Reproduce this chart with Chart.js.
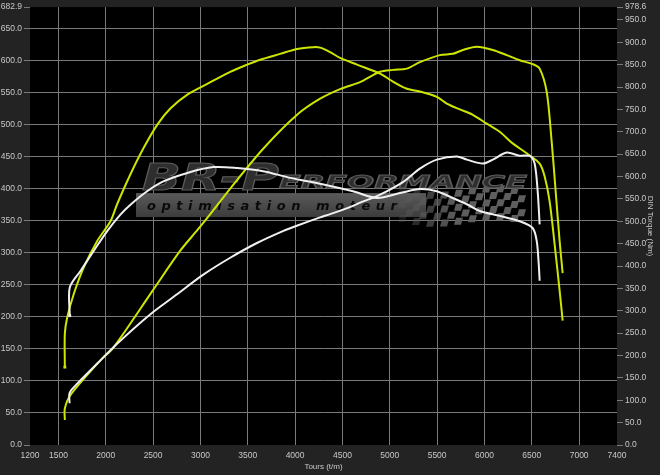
<!DOCTYPE html>
<html>
<head>
<meta charset="utf-8">
<script src="https://cdn.jsdelivr.net/npm/chart.js@4.4.1/dist/chart.umd.min.js"></script>
<style>
  html, body { margin: 0; padding: 0; background: #232323; }
  canvas { display: block; }
</style>
</head>
<body>
<canvas id="dyno" width="660" height="475"></canvas>
<script>
// axis ticks
const rpmTicks = [1200, 1500, 2000, 2500, 3000, 3500, 4000, 4500, 5000, 5500, 6000, 6500, 7000, 7400];
const powerTicks = [0, 50, 100, 150, 200, 250, 300, 350, 400, 450, 500, 550, 600, 650, 682.9];
const torqueTicks = [0, 50, 100, 150, 200, 250, 300, 350, 400, 450, 500, 550, 600, 650, 700, 750, 800, 850, 900, 950, 978.6];

// tuned (yellow)
const tunedPowerRpm = [1568, 1568, 1628, 1944, 2081, 2492, 2787, 2967, 3104, 3315, 3663, 4021, 4264, 4475, 4686, 4897, 5034, 5181, 5318, 5529, 5666, 5772, 5919, 6088, 6235, 6372, 6509, 6583, 6657, 6710, 6752, 6794, 6826];
const tunedPower = [39, 57, 78, 132, 152, 240, 303, 335, 360, 400, 462, 515, 540, 555, 566, 582, 585, 587, 597, 608, 610, 616, 621, 616, 608, 600, 594, 587, 551, 473, 396, 318, 268];
const tunedTorqueRpm = [1568, 1568, 1593, 1663, 1768, 1910, 2050, 2120, 2261, 2398, 2545, 2682, 2862, 3072, 3315, 3494, 3631, 3842, 4021, 4190, 4264, 4370, 4475, 4654, 4897, 5034, 5181, 5318, 5497, 5602, 5740, 5877, 6024, 6161, 6298, 6446, 6583, 6636, 6688, 6741, 6794, 6826];
const tunedTorque = [174, 249, 285, 338, 397, 456, 500, 538, 605, 663, 716, 752, 783, 807, 834, 850, 861, 874, 885, 889, 888, 878, 865, 850, 830, 812, 796, 790, 778, 763, 750, 738, 718, 700, 674, 652, 629, 600, 545, 449, 345, 278];

// stock (white)
const stockPowerRpm = [1618, 1618, 1681, 1910, 2120, 2472, 2753, 3034, 3315, 3597, 3877, 4018, 4264, 4370, 4612, 4719, 4865, 5139, 5318, 5497, 5708, 5814, 5983, 6088, 6235, 6372, 6478, 6530, 6562, 6583];
const stockPower = [65, 81, 93, 127, 158, 204, 235, 266, 292, 315, 334, 342, 355, 360, 373, 380, 388, 410, 431, 445, 450, 445, 439, 445, 456, 451, 451, 439, 396, 344];
const stockTorqueRpm = [1620, 1620, 1733, 1874, 2015, 2155, 2261, 2437, 2609, 2862, 3136, 3389, 3663, 3947, 4264, 4612, 4865, 5108, 5318, 5497, 5666, 5814, 5951, 6161, 6372, 6509, 6552, 6573, 6583];
const stockTorque = [289, 352, 389, 434, 478, 515, 537, 567, 589, 608, 621, 619, 612, 597, 584, 567, 552, 563, 572, 567, 552, 538, 523, 512, 500, 485, 456, 405, 367];

const YELLOW = '#cde600';
const WHITE = '#f0f0f0';
const GRID = '#7a7a7a';
const TEXT = '#c8c8c8';

const pts = (xs, ys) => xs.map((x, i) => ({ x: x, y: ys[i] }));
const firstOnly = ctx => ctx.dataIndex === 0 ? 2 : 0;
const hideEdges = (lo, hi) => c => (c.tick && (c.tick.value === lo || c.tick.value === hi)) ? 'rgba(0,0,0,0)' : GRID;

const plotBg = {
  id: 'plotBg',
  beforeDraw(chart) {
    const { ctx, chartArea: a } = chart;
    ctx.save();
    ctx.fillStyle = '#000';
    ctx.fillRect(a.left, a.top, a.right - a.left, a.bottom - a.top);
    ctx.restore();
  }
};

// BR-Performance watermark behind the curves
const logo = {
  id: 'logo',
  beforeDatasetsDraw(chart) {
    const { ctx, chartArea: a } = chart;
    const L = a.left, T = a.top;
    ctx.save();

    // grey band
    const g = ctx.createLinearGradient(0, T + 186, 0, T + 210);
    g.addColorStop(0, '#5a5a5a');
    g.addColorStop(1, '#3c3c3c');
    ctx.fillStyle = g;
    ctx.fillRect(L + 106, T + 186, 290, 24);

    // checkered flag
    const sq = 7;
    for (let c = 0; c < 18; c++) {
      for (let r = 0; r < 5; r++) {
        if ((c + r) % 2) continue;
        const x = L + 368 + c * sq;
        const y = T + 180 + r * sq + Math.sin(c * 0.35) * 4 + c * 0.15;
        ctx.globalAlpha = Math.min(1, 0.25 + c / 10);
        ctx.fillStyle = '#5e5e5e';
        ctx.beginPath();
        ctx.moveTo(x + 2, y);
        ctx.lineTo(x + sq + 2, y);
        ctx.lineTo(x + sq, y + sq);
        ctx.lineTo(x, y + sq);
        ctx.closePath();
        ctx.fill();
      }
    }
    ctx.globalAlpha = 1;

    // "optimisation moteur"
    const tag = 'optimisation moteur';
    ctx.font = 'italic bold 13px "DejaVu Sans"';
    ctx.fillStyle = '#0a0a0a';
    ctx.textBaseline = 'alphabetic';
    const raw = ctx.measureText(tag).width;
    const gap = (250 - raw) / (tag.length - 1);
    let tx = L + 117;
    for (const ch of tag) {
      ctx.fillText(ch, tx, T + 203);
      tx += ctx.measureText(ch).width + gap;
    }

    // "BR-P" + "ERFORMANCE"
    const drawStretched = (txt, font, x, y, w) => {
      ctx.font = font;
      const m = ctx.measureText(txt).width;
      ctx.save();
      ctx.translate(x, y);
      ctx.scale(w / m, 1);
      ctx.fillStyle = '#2e2e2e';
      ctx.fillText(txt, 0, 0);
      ctx.lineWidth = 1;
      ctx.strokeStyle = '#5c5c5c';
      ctx.strokeText(txt, 0, 0);
      ctx.restore();
    };
    drawStretched('BR-P', 'italic bold 38px "DejaVu Sans"', L + 112, T + 183, 137);
    drawStretched('ERFORMANCE', 'italic bold 18px "DejaVu Sans"', L + 249, T + 181, 248);

    ctx.restore();
  }
};

new Chart(document.getElementById('dyno'), {
  type: 'line',
  data: {
    datasets: [
      {
        label: 'Puissance origine',
        data: pts(stockPowerRpm, stockPower),
        yAxisID: 'y',
        borderColor: WHITE,
        borderWidth: 2,
        pointRadius: 0,
        tension: 0.3,
      },
      {
        label: 'Couple origine',
        data: pts(stockTorqueRpm, stockTorque),
        yAxisID: 'y2',
        borderColor: WHITE,
        backgroundColor: WHITE,
        borderWidth: 2,
        pointStyle: 'rect',
        pointRadius: firstOnly,
        pointBorderWidth: 0,
        tension: 0.3,
      },
      {
        label: 'Puissance',
        data: pts(tunedPowerRpm, tunedPower),
        yAxisID: 'y',
        borderColor: YELLOW,
        borderWidth: 2,
        pointRadius: 0,
        tension: 0.3,
      },
      {
        label: 'Couple',
        data: pts(tunedTorqueRpm, tunedTorque),
        yAxisID: 'y2',
        borderColor: YELLOW,
        backgroundColor: YELLOW,
        borderWidth: 2,
        pointStyle: 'rect',
        pointRadius: firstOnly,
        pointBorderWidth: 0,
        tension: 0.3,
      },
    ],
  },
  options: {
    responsive: false,
    animation: false,
    layout: { padding: { top: 5, left: 0, right: 0, bottom: 0 } },
    plugins: {
      legend: { display: false },
      tooltip: { enabled: false },
    },
    scales: {
      x: {
        type: 'linear',
        min: 1200,
        max: 7400,
        afterBuildTicks: s => { s.ticks = rpmTicks.map(v => ({ value: v })); },
        afterFit: s => { s.height = 30; },
        grid: { color: hideEdges(1200, 7400), drawTicks: false },
        border: { display: false },
        ticks: {
          autoSkip: false,
          maxRotation: 0,
          padding: 6,
          color: TEXT,
          font: { family: 'Liberation Sans', size: 8.5 },
          callback: v => String(v),
        },
        title: {
          display: true,
          text: 'Tours (t/m)',
          color: TEXT,
          font: { family: 'Liberation Sans', size: 8 },
          padding: { top: 0, bottom: 3 },
        },
      },
      y: {
        position: 'left',
        min: 0,
        max: 682.9,
        afterBuildTicks: s => { s.ticks = powerTicks.map(v => ({ value: v })); },
        afterFit: s => { s.width = 30; },
        grid: { color: hideEdges(0, 682.9), tickColor: GRID, tickLength: 6 },
        border: { display: false },
        ticks: {
          autoSkip: false,
          padding: 2,
          color: TEXT,
          font: { family: 'Liberation Sans', size: 8.5 },
          callback: v => v.toFixed(1),
        },
      },
      y2: {
        position: 'right',
        min: 0,
        max: 978.6,
        afterBuildTicks: s => { s.ticks = torqueTicks.map(v => ({ value: v })); },
        afterFit: s => { s.width = 43; },
        grid: { drawOnChartArea: false, tickColor: GRID, tickLength: 6 },
        border: { display: false },
        ticks: {
          autoSkip: false,
          padding: 2,
          color: TEXT,
          font: { family: 'Liberation Sans', size: 8.5 },
          callback: v => v.toFixed(1),
        },
        title: {
          display: true,
          text: 'DIN Torque (Nm)',
          color: TEXT,
          font: { family: 'Liberation Sans', size: 8 },
          padding: { top: 5, bottom: 0 },
        },
      },
    },
  },
  plugins: [plotBg, logo],
});
</script>
</body>
</html>
